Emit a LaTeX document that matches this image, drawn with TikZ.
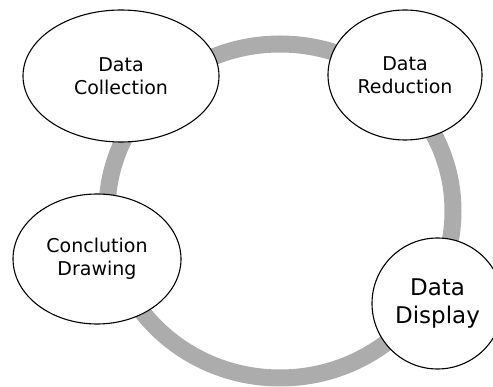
\documentclass[tikz,border=0pt]{standalone}
\usepackage{fontspec}
\setmainfont{DejaVu Sans}
\usetikzlibrary{shapes.geometric}
\tikzset{
	stage/.style={ellipse, draw=black, line width=1.1pt, fill=white, inner sep=0pt, align=center, font=\fontsize{19}{23}\selectfont},
	bigstage/.style={circle, draw=black, line width=1.1pt, fill=white, inner sep=0pt, align=center, font=\fontsize{23}{28}\selectfont},
	cycle/.style={draw=gray!65, line width=17pt}
}
\begin{document}
\begin{tikzpicture}[x=1pt, y=-1pt]
		\useasboundingbox (0,0) rectangle (493,387);
		\clip (0,0) rectangle (493,387);
		\draw [cycle] (280,211) ellipse [x radius=173, y radius=167];
		\node [stage, minimum width=196, minimum height=132] (collection) at (121,76) {Data\\Collection};
		\node [stage, minimum width=154, minimum height=130] (reduction) at (405,75) {Data\\Reduction};
		\node [stage, minimum width=168, minimum height=130] (drawing) at (97,259) {Conclution\\Drawing};
		\node [bigstage, minimum size=131] (display) at (437.5,303.5) {Data\\Display};
	\end{tikzpicture}
\end{document}
